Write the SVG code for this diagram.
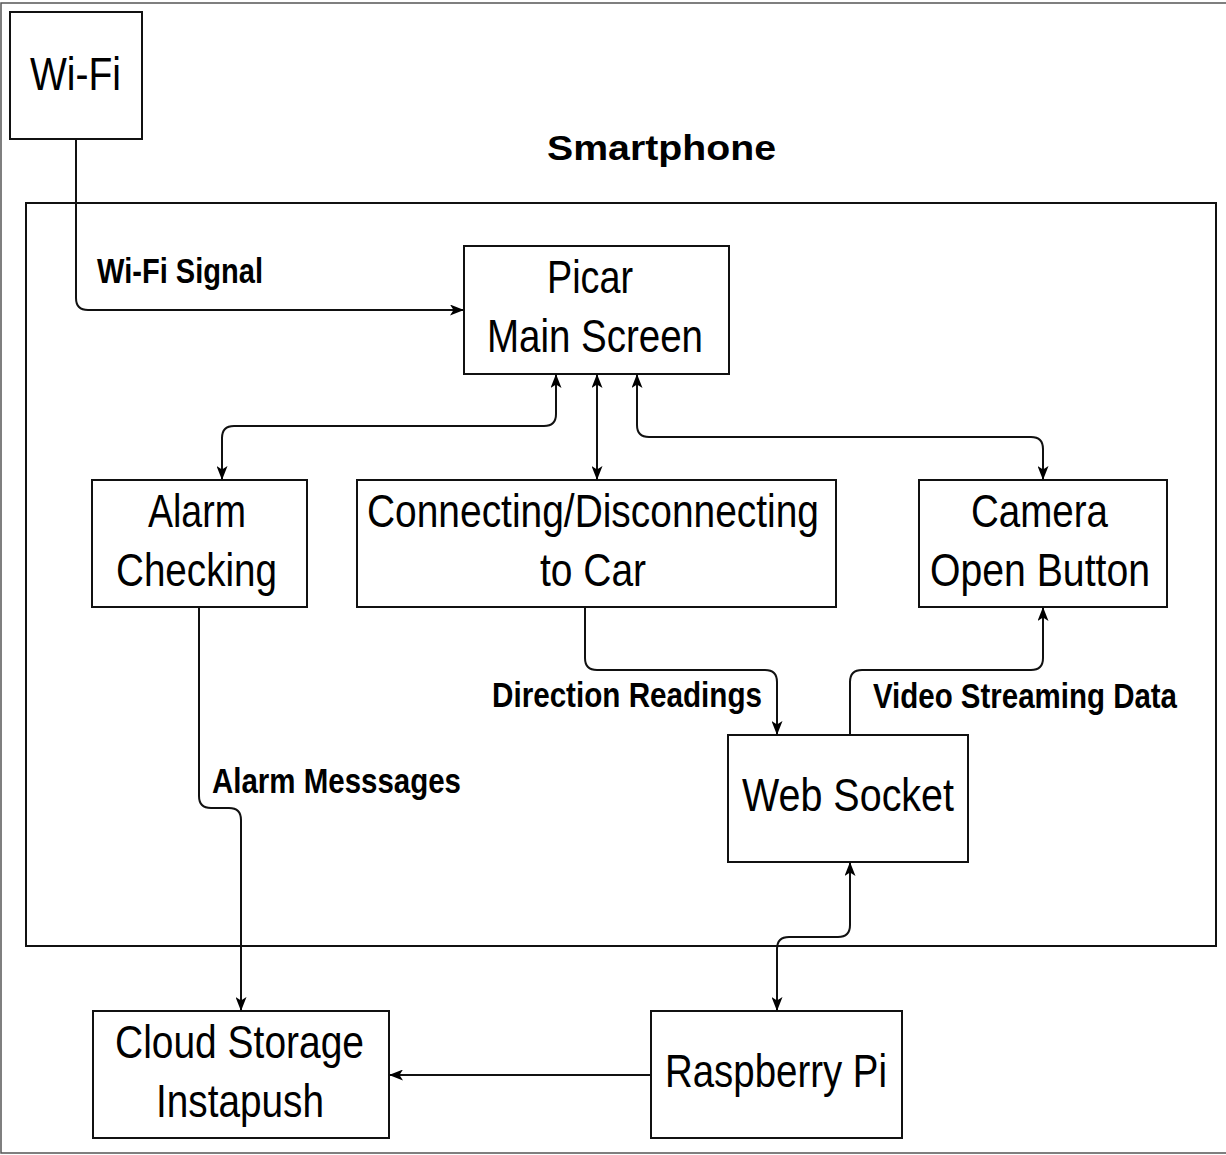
<svg xmlns="http://www.w3.org/2000/svg" width="1226" height="1155" viewBox="0 0 1226 1155">
<style>
.box{fill:#fff;stroke:#111;stroke-width:2}
.t{font-family:"Liberation Sans",Arial,sans-serif;font-size:46px;fill:#000}
.b{font-family:"Liberation Sans",Arial,sans-serif;font-size:35px;font-weight:bold;fill:#000}
.c{fill:none;stroke:#111;stroke-width:2}
</style>
<defs>
<marker id="ah" viewBox="0 0 14 11" refX="14" refY="5.5" markerWidth="14" markerHeight="11" markerUnits="userSpaceOnUse" orient="auto-start-reverse">
<path d="M0,0 L14,5.5 L0,11 L3.5,5.5 z" fill="#000"/>
</marker>
</defs>
<rect x="0" y="0" width="1226" height="1155" fill="#fff"/>
<rect x="1" y="3" width="1230" height="1150" fill="none" stroke="#555" stroke-width="1.5"/>
<g id="smartphone">
<rect x="26" y="203" width="1190" height="743" fill="none" stroke="#111" stroke-width="2"/>
<text class="b" x="547" y="160" font-size="41" textLength="229" lengthAdjust="spacingAndGlyphs">Smartphone</text>
</g>
<g id="wifi">
<rect class="box" x="10" y="12" width="132" height="127"/>
<text class="t" x="30" y="90" font-size="52" textLength="91" lengthAdjust="spacingAndGlyphs">Wi-Fi</text>
</g>
<g id="picar">
<rect class="box" x="464" y="246" width="265" height="128"/>
<text class="t" x="547" y="293" textLength="86" lengthAdjust="spacingAndGlyphs">Picar</text>
<text class="t" x="487" y="352" textLength="216" lengthAdjust="spacingAndGlyphs">Main Screen</text>
</g>
<g id="alarm">
<rect class="box" x="92" y="480" width="215" height="127"/>
<text class="t" x="148" y="527" textLength="98" lengthAdjust="spacingAndGlyphs">Alarm</text>
<text class="t" x="116" y="586" textLength="161" lengthAdjust="spacingAndGlyphs">Checking</text>
</g>
<g id="connecting">
<rect class="box" x="357" y="480" width="479" height="127"/>
<text class="t" x="367" y="527" textLength="452" lengthAdjust="spacingAndGlyphs">Connecting/Disconnecting</text>
<text class="t" x="540" y="586" textLength="106" lengthAdjust="spacingAndGlyphs">to Car</text>
</g>
<g id="camera">
<rect class="box" x="919" y="480" width="248" height="127"/>
<text class="t" x="971" y="527" textLength="137" lengthAdjust="spacingAndGlyphs">Camera</text>
<text class="t" x="930" y="586" textLength="220" lengthAdjust="spacingAndGlyphs">Open Button</text>
</g>
<g id="websocket">
<rect class="box" x="728" y="735" width="240" height="127"/>
<text class="t" x="742" y="811" textLength="212" lengthAdjust="spacingAndGlyphs">Web Socket</text>
</g>
<g id="cloud">
<rect class="box" x="93" y="1011" width="296" height="127"/>
<text class="t" x="115" y="1058" textLength="249" lengthAdjust="spacingAndGlyphs">Cloud Storage</text>
<text class="t" x="156" y="1117" textLength="168" lengthAdjust="spacingAndGlyphs">Instapush</text>
</g>
<g id="raspberry">
<rect class="box" x="651" y="1011" width="251" height="127"/>
<text class="t" x="665" y="1087" textLength="222" lengthAdjust="spacingAndGlyphs">Raspberry Pi</text>
</g>
<g id="connectors">
<path class="c" d="M76,139 V298 Q76,310 88,310 H464" marker-end="url(#ah)"/>
<path class="c" d="M556,374 V414 Q556,426 544,426 H234 Q222,426 222,438 V480" marker-start="url(#ah)" marker-end="url(#ah)"/>
<path class="c" d="M597,374 V480" marker-start="url(#ah)" marker-end="url(#ah)"/>
<path class="c" d="M637,374 V425 Q637,437 649,437 H1031 Q1043,437 1043,449 V480" marker-start="url(#ah)" marker-end="url(#ah)"/>
<path class="c" d="M585,607 V658 Q585,670 597,670 H765 Q777,670 777,682 V735" marker-end="url(#ah)"/>
<path class="c" d="M850,735 V682 Q850,670 862,670 H1031 Q1043,670 1043,658 V607" marker-end="url(#ah)"/>
<path class="c" d="M850,862 V925 Q850,937 838,937 H789 Q777,937 777,949 V1011" marker-start="url(#ah)" marker-end="url(#ah)"/>
<path class="c" d="M199,607 V796 Q199,808 211,808 H229 Q241,808 241,820 V1011" marker-end="url(#ah)"/>
<path class="c" d="M651,1075 H389" marker-end="url(#ah)"/>
<text class="b" x="97" y="283" textLength="166" lengthAdjust="spacingAndGlyphs">Wi-Fi Signal</text>
<text class="b" x="492" y="707" textLength="270" lengthAdjust="spacingAndGlyphs">Direction Readings</text>
<text class="b" x="873" y="708" textLength="304" lengthAdjust="spacingAndGlyphs">Video Streaming Data</text>
<text class="b" x="212" y="793" textLength="249" lengthAdjust="spacingAndGlyphs">Alarm Messsages</text>
</g>
</svg>
